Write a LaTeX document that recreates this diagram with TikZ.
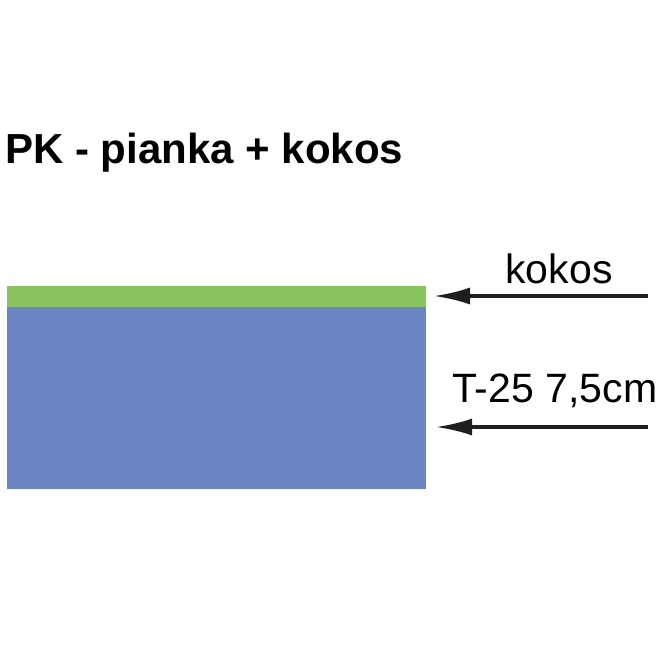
\documentclass[tikz,border=0pt]{standalone}
\usepackage{fontspec}
\setmainfont{Liberation Sans}
\usetikzlibrary{arrows.meta,positioning}
\definecolor{kokosgreen}{RGB}{138,196,94}
\definecolor{piankablue}{RGB}{107,133,196}
\definecolor{arrowgray}{RGB}{30,30,30}

\begin{document}
\begin{tikzpicture}[x=1pt,y=-1pt,
   layer/.style={rectangle,inner sep=0pt,draw=none,minimum width=419pt},
   lbl/.style={font=\fontsize{41}{49}\selectfont,inner sep=0pt},
   pointer/.style={arrowgray,line width=3.2pt,-{Latex[length=36pt,width=17pt]}}]
   \useasboundingbox (0,0) rectangle (665,665);
   \node[anchor=base west,inner sep=0pt,font=\fontsize{42}{50}\selectfont\bfseries] (title) at (5,163) {PK - pianka + kokos};
   \node[layer,fill=piankablue,minimum height=183pt,anchor=north west] (pianka) at (7,306) {};
   \node[layer,fill=kokosgreen,minimum height=21pt,anchor=north west] (kokos) at (7,286) {};
   \coordinate (k_start) at (648,296);
   \coordinate (k_tip) at (434,296);
   \coordinate (p_start) at (648,427);
   \coordinate (p_tip) at (436,427);
   \node[lbl,anchor=base] (k_lbl) at (559,283) {kokos};
   \node[lbl,anchor=base west] (p_lbl) at (452,402) {T-25 7,5cm};
   \draw[pointer] (k_start) -- (k_tip);
   \draw[pointer] (p_start) -- (p_tip);
\end{tikzpicture}
\end{document}
